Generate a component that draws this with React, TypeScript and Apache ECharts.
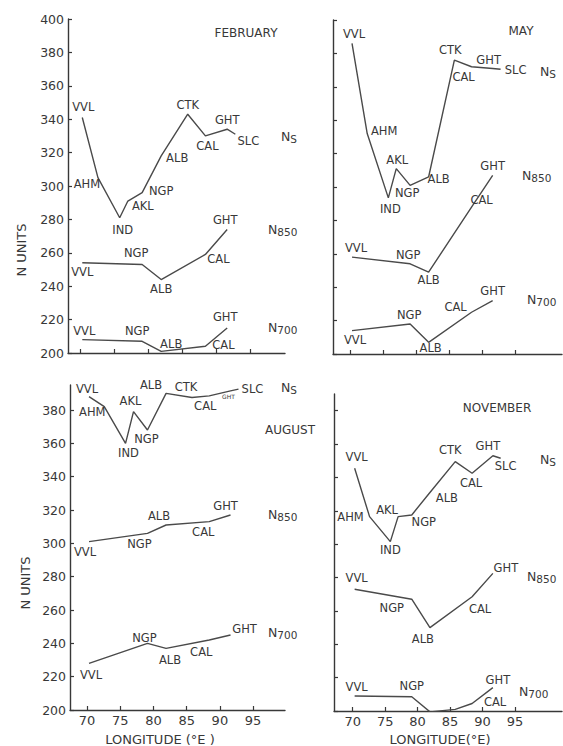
import React, { useEffect, useRef } from "react";
import * as echarts from "echarts";

// ---------- data ----------
const stations = ["VVL", "AHM", "IND", "AKL", "NGP", "ALB", "CTK", "CAL", "GHT", "SLC"];
const longitudes = [70.3, 72.6, 75.8, 77.0, 79.1, 81.9, 85.8, 88.4, 91.6, 92.8];

const febNs = [341, 305, 281, 291, 296, 318, 343, 330, 334, 331];
const febN850 = [254, null, null, null, 253, 244, null, 259, 274, null];
const febN700 = [208, null, null, null, 207, 201, null, 204, 215, null];

const mayNs = [386, 332, 293.5, 311, 301, 306, 376, 372, 371, 370.5];
const mayN850 = [258, null, null, null, 254, 249, null, 288, 307, null];
const mayN700 = [214, null, null, null, 218, 207, null, 225, 232, null];

const augNs = [388, 382, 360, 379, 368, 390, 387.5, 388.5, 391.5, 392.5];
const augN850 = [301, null, null, null, 306, 311, null, 313, 317, null];
const augN700 = [228, null, null, null, 240, 237, null, 242, 245, null];

const novNs = [345.5, 316.5, 301.5, 316.5, 317.5, 331, 349.5, 342.5, 353, 351.5];
const novN850 = [273, null, null, null, 267, 250, null, 268.5, 282.5, null];
const novN700 = [209, null, null, null, 208.5, 199.5, 201, 204.5, 214, null];

const months = ["FEBRUARY", "MAY", "AUGUST", "NOVEMBER"];
const xTickValues = [70, 75, 80, 85, 90, 95];
const yTickValuesFull = [200, 220, 240, 260, 280, 300, 320, 340, 360, 380, 400];
const yTickValuesShort = [200, 220, 240, 260, 280, 300, 320, 340, 360, 380];
const yAxisTitle = "N UNITS";
const xAxisTitles = ["LONGITUDE (°E )", "LONGITUDE(°E)"];

// ---------- layout (positions/styles) ----------
const panels = [
  { grid: { left: 68, top: 19, width: 217, height: 334 }, xMin: 68.2, xMax: 100.1, yMax: 400, yLab: true, xLab: false, series: [febNs, febN850, febN700], title: [246, 33] },
  { grid: { left: 333, top: 20, width: 229, height: 334 }, xMin: 67.42, xMax: 102.1, yMax: 400, yLab: false, xLab: false, series: [mayNs, mayN850, mayN700], title: [521, 31] },
  { grid: { left: 70, top: 385, width: 215, height: 325 }, xMin: 67.44, xMax: 99.8, yMax: 395, yLab: true, xLab: true, series: [augNs, augN850, augN700], title: [290, 430] },
  { grid: { left: 334, top: 394, width: 228, height: 317 }, xMin: 67.12, xMax: 102.25, yMax: 390, yLab: false, xLab: true, series: [novNs, novN850, novN700], title: [497, 408] },
];

type Off = Record<string, number[]>;
const labelOffsets: Off[][] = [
  [
    { VVL: [1, -11], AHM: [-11, 6], IND: [3, 12], AKL: [15, 5], NGP: [19, -2], ALB: [16, 2], CTK: [0, -9], CAL: [2, 10], GHT: [0, -9], SLC: [13, 7] },
    { VVL: [0, 9], NGP: [-6, -11], ALB: [0, 9], CAL: [13, 5], GHT: [-2, -9] },
    { VVL: [2, -9], NGP: [-5, -10], ALB: [10, -7], CAL: [18, -1], GHT: [-2, -11] },
  ],
  [
    { VVL: [2, -9], AHM: [17, -3], IND: [2, 11], AKL: [1, -9], NGP: [-3, 8], ALB: [10, 2], CTK: [-4, -10], CAL: [-8, 10], GHT: [-4, -8], SLC: [15, 1] },
    { VVL: [4, -9], NGP: [-2, -9], ALB: [0, 8], CAL: [10, -7], GHT: [0, -9] },
    { VVL: [3, 9], NGP: [-1, -9], ALB: [2, 6], CAL: [-16, -5], GHT: [0, -10] },
  ],
  [
    { VVL: [-2, -8], AHM: [-12, 5], IND: [3, 10], AKL: [-3, -11], NGP: [-1, 9], ALB: [-15, -8], CTK: [-6, -11], CAL: [-4, 10], GHT: [-2, 6], SLC: [14, 0] },
    { VVL: [-4, 10], NGP: [-8, 11], ALB: [-7, -9], CAL: [-6, 10], GHT: [-5, -9] },
    { VVL: [2, 12], NGP: [-3, -5], ALB: [4, 12], CAL: [-8, 12], GHT: [14, -6] },
  ],
  [
    { VVL: [2, -11], AHM: [-19, 0], IND: [0, 8], AKL: [-11, -7], NGP: [12, 7], ALB: [17, 6], CTK: [-5, -12], CAL: [-1, 10], GHT: [-5, -10], SLC: [5, 8] },
    { VVL: [2, -11], NGP: [-20, 9], ALB: [-7, 11], CAL: [8, 12], GHT: [13, -5] },
    { VVL: [2, -9], NGP: [0, -11], ALB: [7, -9], CAL: [23, -1], GHT: [5, -8] },
  ],
];

// series-name annotation positions [panel][level] -> [x, y]
const levelNamePos = [
  [[281, 137], [268, 230], [268, 328]],
  [[540, 72], [522, 176], [527, 300]],
  [[281, 388], [268, 515], [268, 633]],
  [[540, 460], [527, 577], [519, 692]],
];
const levelNames = ["{n|N}{s|S}", "{n|N}{s|850}", "{n|N}{s|700}"];

const FONT = "DejaVu Sans";
const INK = "#383838";
const LINE = "#4a4a4a";

export default function App() {
  const ref = useRef<HTMLDivElement>(null);
  useEffect(() => {
    if (!ref.current) return;
    const chart = echarts.init(ref.current, null, { renderer: "svg" });

    const grid = panels.map((p) => ({ ...p.grid, containLabel: false }));
    const xAxis = panels.map((p, i) => ({
      type: "value",
      gridIndex: i,
      min: p.xMin,
      max: p.xMax,
      axisLine: { show: true, lineStyle: { color: INK, width: 1.4 } },
      axisTick: { show: true, inside: true, length: 4, customValues: xTickValues, lineStyle: { color: INK, width: 1.2 } },
      axisLabel: { show: p.xLab, customValues: xTickValues, color: INK, fontFamily: FONT, fontSize: 13, margin: 4 },
      splitLine: { show: false },
    }));
    const yAxis = panels.map((p, i) => {
      const ticks = p.yMax >= 400 ? yTickValuesFull : yTickValuesShort;
      return {
        type: "value",
        gridIndex: i,
        min: 200,
        max: p.yMax,
        axisLine: { show: true, lineStyle: { color: INK, width: 1.4 } },
        axisTick: { show: true, inside: true, length: 4, customValues: ticks, lineStyle: { color: INK, width: 1.2 } },
        axisLabel: { show: p.yLab, customValues: ticks, color: INK, fontFamily: FONT, fontSize: 12.5, margin: 4 },
        splitLine: { show: false },
      };
    });

    const series: any[] = [];
    panels.forEach((p, pi) => {
      p.series.forEach((vals, li) => {
        const offs = labelOffsets[pi][li];
        const data: any[] = [];
        vals.forEach((v, si) => {
          if (v == null) return;
          const name = stations[si];
          const off = offs[name];
          const tiny = pi === 2 && li === 0 && name === "GHT";
          data.push({
            value: [longitudes[si], v],
            label: off
              ? { show: true, formatter: name, offset: off, fontSize: tiny ? 6 : 11.5 }
              : { show: false },
          });
        });
        series.push({
          type: "line",
          xAxisIndex: pi,
          yAxisIndex: pi,
          data,
          symbol: "circle",
          symbolSize: 1,
          itemStyle: { color: "rgba(0,0,0,0)" },
          lineStyle: { color: LINE, width: 1.4 },
          label: { position: "inside", color: INK, fontFamily: FONT, fontSize: 11.5 },
          silent: true,
          clip: true,
        });
      });
    });

    const graphic: any[] = [];
    panels.forEach((p, pi) => {
      graphic.push({
        type: "text",
        x: p.title[0],
        y: p.title[1],
        style: { text: months[pi], fill: INK, font: `12px "${FONT}"`, textAlign: "center", textVerticalAlign: "middle" },
      });
      levelNamePos[pi].forEach((pos, li) => {
        graphic.push({
          type: "text",
          x: pos[0],
          y: pos[1],
          style: {
            text: levelNames[li],
            fill: INK,
            textVerticalAlign: "middle",
            rich: {
              n: { fontFamily: FONT, fontSize: 12.5, fill: INK, color: INK, verticalAlign: "top", lineHeight: 14 },
              s: { fontFamily: FONT, fontSize: 10.5, fill: INK, color: INK, verticalAlign: "bottom", lineHeight: 14, padding: [6, 0, 0, 0] },
            },
          },
        });
      });
    });
    graphic.push(
      { type: "text", x: 21, y: 250, rotation: Math.PI / 2, style: { text: yAxisTitle, fill: INK, font: `13px "${FONT}"`, textAlign: "center", textVerticalAlign: "middle" } },
      { type: "text", x: 25, y: 583, rotation: Math.PI / 2, style: { text: yAxisTitle, fill: INK, font: `13px "${FONT}"`, textAlign: "center", textVerticalAlign: "middle" } },
      { type: "text", x: 160, y: 739, style: { text: xAxisTitles[0], fill: INK, font: `13px "${FONT}"`, textAlign: "center", textVerticalAlign: "middle" } },
      { type: "text", x: 440, y: 739, style: { text: xAxisTitles[1], fill: INK, font: `13px "${FONT}"`, textAlign: "center", textVerticalAlign: "middle" } }
    );

    chart.setOption({
      animation: false,
      backgroundColor: "#ffffff",
      grid,
      xAxis,
      yAxis,
      series,
      graphic,
    });
    return () => chart.dispose();
  }, []);
  return <div ref={ref} style={{ position: "fixed", left: 0, top: 0, width: 563, height: 746 }} />;
}
